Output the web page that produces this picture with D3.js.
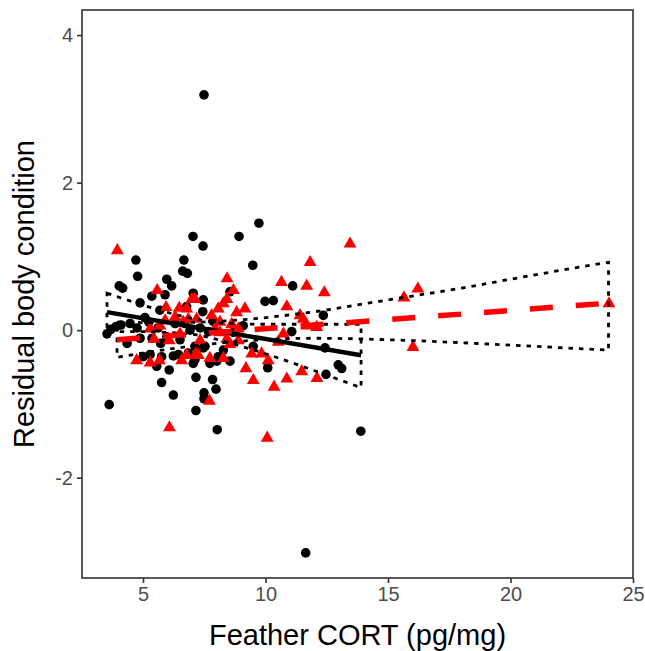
<!DOCTYPE html>
<html>
<head>
<meta charset="utf-8">
<script src="https://cdn.jsdelivr.net/npm/d3@7"></script>
<style>
  body { margin: 0; background: #fff; }
  svg { font-family: "Liberation Sans", Arial, sans-serif; }
</style>
</head>
<body>
<div id="chart"></div>
<script>
// group 1 (black circles)
const blackX = [7.49, 9.73, 8.92, 7.04, 7.45, 9.48, 4.71, 6.67, 4.78, 6.62, 6.81, 5.97, 4.03, 4.17, 6.17, 7.05,
  5.36, 5.90, 7.46, 4.88, 11.11, 8.55, 9.98, 10.32, 12.36, 9.09, 11.07, 8.69, 9.50, 10.09, 12.43, 12.47,
  12.97, 13.11, 5.76, 7.16, 7.84, 6.24, 7.49, 7.49, 7.98, 7.16, 8.03, 3.62, 13.89, 11.64,
  3.53, 3.69, 3.90, 4.10, 4.47, 4.76, 5.08, 5.24, 5.61, 5.01, 5.29, 5.76, 6.24, 6.85, 5.72, 5.97,
  5.56, 6.07, 7.12, 7.46, 8.01, 8.28, 7.44, 6.78, 7.33, 7.67, 6.71, 6.51, 7.12, 7.53, 7.05, 7.73,
  8.07, 8.55, 6.44, 6.31, 6.92, 5.69, 4.35, 4.88, 5.37, 7.86];
const blackY = [3.19, 1.45, 1.27, 1.27, 1.14, 0.88, 0.95, 0.95, 0.73, 0.80, 0.77, 0.69, 0.60, 0.57, 0.60, 0.50,
  0.46, 0.48, 0.41, 0.37, 0.60, 0.52, 0.39, 0.40, 0.20, 0.06, -0.02, -0.03, -0.22, -0.51, -0.24, -0.60,
  -0.47, -0.52, -0.71, -0.64, -0.67, -0.88, -0.85, -0.93, -0.80, -1.09, -1.35, -1.01, -1.37, -3.02,
  -0.05, 0.01, 0.05, 0.07, 0.09, 0.03, 0.17, 0.11, 0.03, -0.36, -0.33, -0.36, -0.35, -0.31, -0.18, -0.09,
  -0.49, -0.54, -0.40, -0.24, -0.42, -0.27, 0.25, 0.32, 0.03, -0.02, 0.09, -0.13, -0.22, -0.22, -0.45, -0.45,
  -0.36, -0.42, -0.33, 0.09, 0.00, 0.27, -0.18, -0.11, -0.11, 0.12];

// group 2 (red triangles)
const redX = [3.95, 13.45, 11.82, 10.65, 11.68, 12.40, 8.43, 9.16, 10.87, 11.41, 15.65, 16.22, 16.02, 24.02,
  6.08, 7.71, 10.07, 10.35, 9.50, 10.87, 11.48, 12.10, 9.20, 9.44, 9.84, 10.11, 8.42, 8.89, 8.28, 10.52,
  10.73, 4.74, 5.29, 5.67, 6.58, 7.16, 7.73, 5.45, 6.07, 6.51, 8.14, 5.58, 7.12, 5.94, 6.48, 6.78,
  5.90, 6.31, 6.64, 5.29, 5.69, 8.28, 8.07, 7.80, 8.82, 6.85, 7.94, 8.14, 8.62, 8.89, 7.33, 7.26,
  6.78, 8.55, 8.69, 8.42, 7.19, 11.54, 12.09, 11.68, 6.99];
const redY = [1.09, 1.18, 0.93, 0.66, 0.61, 0.52, 0.71, 0.30, 0.33, 0.21, 0.45, 0.57, -0.22, 0.37,
  -1.31, -0.95, -1.45, -0.76, -0.67, -0.65, -0.55, -0.64, -0.51, -0.31, -0.31, -0.40, -0.11, -0.13, -0.37, -0.15,
  -0.04, -0.40, -0.43, -0.40, -0.40, -0.31, -0.37, -0.11, -0.13, -0.04, -0.02, 0.55, 0.43, 0.32, 0.31, 0.30,
  0.14, 0.19, 0.12, 0.03, 0.07, 0.37, 0.30, 0.21, 0.25, 0.16, 0.03, 0.12, 0.09, 0.03, -0.13, -0.33,
  -0.33, -0.18, 0.55, 0.43, 0.16, 0.16, 0.05, 0.07, 0.43];

// fitted lines and confidence bands
const blackFitX = [3.53, 13.9];
const blackFitY = [0.244, -0.34];
const blackBandX = [3.53, 5, 6, 7.3, 8.5, 10, 12, 13.9];
const blackBandLo = [-0.02, -0.02, -0.03, -0.07, -0.17, -0.32, -0.55, -0.78];
const blackBandHi = [0.50, 0.34, 0.24, 0.14, 0.09, 0.08, 0.08, 0.08];

const redFitX = [3.94, 24];
const redFitY = [-0.13, 0.366];
const redBandX = [3.94, 6, 9, 12, 15, 18, 21, 24];
const redBandLo = [-0.37, -0.26, -0.15, -0.11, -0.13, -0.17, -0.22, -0.27];
const redBandHi = [0.11, 0.10, 0.14, 0.25, 0.41, 0.57, 0.75, 0.92];

const xTicks = [5, 10, 15, 20, 25];
const yTicks = [-2, 0, 2, 4];

const width = 645, height = 651;
const margin = {top: 10, right: 12, bottom: 73, left: 82};

const svg = d3.select("#chart").append("svg")
  .attr("width", width)
  .attr("height", height);

const x = d3.scaleLinear()
  .domain([2.51, 25.0])
  .range([margin.left, width - margin.right]);

const y = d3.scaleLinear()
  .domain([-3.36, 4.34])
  .range([height - margin.bottom, margin.top]);

const zip = (xs, ys) => xs.map((v, i) => [v, ys[i]]);

// points
svg.append("g").selectAll("circle")
  .data(zip(blackX, blackY))
  .enter()
  .append("circle")
  .attr("cx", d => x(d[0]))
  .attr("cy", d => y(d[1]))
  .attr("r", 4.8)
  .attr("fill", "black");

const tri = d3.symbol().type(d3.symbolTriangle).size(72);
svg.append("g").selectAll("path")
  .data(zip(redX, redY))
  .enter()
  .append("path")
  .attr("d", tri)
  .attr("transform", d => `translate(${x(d[0])},${y(d[1]) + 0.8})`)
  .attr("fill", "red");

// bands drawn as dotted outlines
const band = d3.area()
  .x(d => x(d.x))
  .y0(d => y(d.lo))
  .y1(d => y(d.hi))
  .curve(d3.curveMonotoneX);

const blackBand = blackBandX.map((v, i) => ({x: v, lo: blackBandLo[i], hi: blackBandHi[i]}));
const redBand = redBandX.map((v, i) => ({x: v, lo: redBandLo[i], hi: redBandHi[i]}));

const line = d3.line().x(d => x(d[0])).y(d => y(d[1]));

svg.append("path")
  .attr("d", band(blackBand))
  .attr("fill", "none")
  .attr("stroke", "black")
  .attr("stroke-width", 2.8)
  .attr("stroke-dasharray", "4.5,6");

svg.append("path")
  .attr("d", line(zip(blackFitX, blackFitY)))
  .attr("fill", "none")
  .attr("stroke", "black")
  .attr("stroke-width", 4.5);

svg.append("path")
  .attr("d", band(redBand))
  .attr("fill", "none")
  .attr("stroke", "black")
  .attr("stroke-width", 2.8)
  .attr("stroke-dasharray", "4.5,6");

svg.append("path")
  .attr("d", line(zip(redFitX, redFitY)))
  .attr("fill", "none")
  .attr("stroke", "red")
  .attr("stroke-width", 5.5)
  .attr("stroke-dasharray", "23,23");

// panel border
svg.append("rect")
  .attr("x", margin.left)
  .attr("y", margin.top)
  .attr("width", width - margin.left - margin.right)
  .attr("height", height - margin.top - margin.bottom)
  .attr("fill", "none")
  .attr("stroke", "#333333")
  .attr("stroke-width", 1.6);

// axes
const xAxis = svg.append("g")
  .attr("transform", `translate(0,${height - margin.bottom})`)
  .call(d3.axisBottom(x).tickValues(xTicks).tickFormat(d => String(d)).tickSize(5).tickPadding(4));
const yAxis = svg.append("g")
  .attr("transform", `translate(${margin.left},0)`)
  .call(d3.axisLeft(y).tickValues(yTicks).tickFormat(d => String(d)).tickSize(5).tickPadding(4));

[xAxis, yAxis].forEach(g => {
  g.select(".domain").remove();
  g.selectAll(".tick line").attr("stroke", "#333333").attr("stroke-width", 1.6);
  g.selectAll(".tick text")
    .attr("fill", "#4D4D4D")
    .style("font-size", "20px");
});

// axis titles
svg.append("text")
  .attr("x", (margin.left + width - margin.right) / 2)
  .attr("y", 645)
  .attr("text-anchor", "middle")
  .style("font-size", "29px")
  .text("Feather CORT (pg/mg)");

svg.append("text")
  .attr("transform", `translate(34,${(margin.top + height - margin.bottom) / 2}) rotate(-90)`)
  .attr("text-anchor", "middle")
  .style("font-size", "29px")
  .text("Residual body condition");
</script>
</body>
</html>
